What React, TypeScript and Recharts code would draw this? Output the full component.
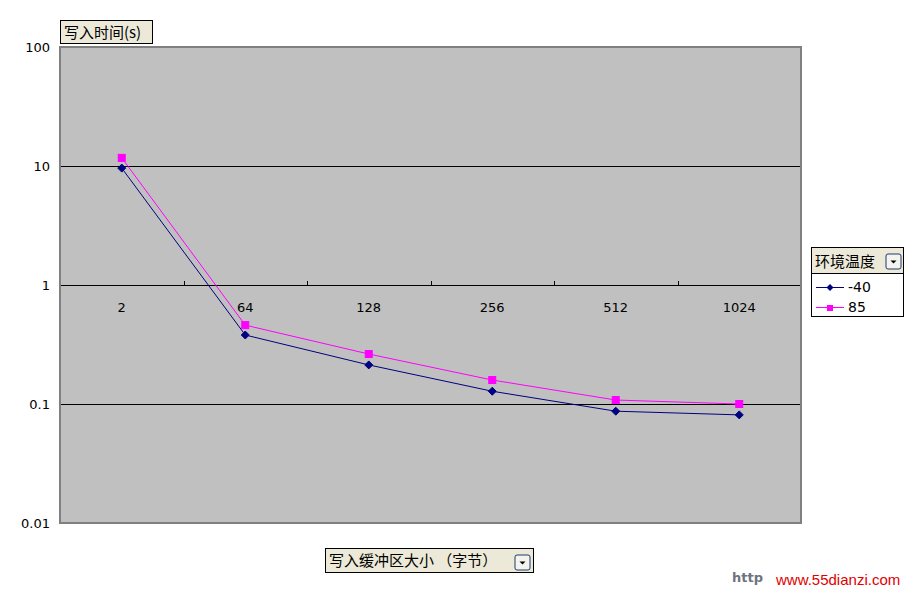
import React from 'react';
import { LineChart, Line, XAxis, YAxis, CartesianGrid, ReferenceArea } from 'recharts';

const categories = ['2', '64', '128', '256', '512', '1024'];
const seriesMinus40 = [9.6, 0.38, 0.213, 0.128, 0.087, 0.081];
const series85 = [11.7, 0.46, 0.263, 0.159, 0.108, 0.1];
const yTicks = [0.01, 0.1, 1, 10, 100];
const yTickLabels = ['0.01', '0.1', '1', '10', '100'];

const data = categories.map((c, i) => ({ cat: c, a: seriesMinus40[i], b: series85[i] }));

const W = 911;
const H = 592;
const XH = 20;
const M = { top: 47, right: 110, bottom: 69 - XH, left: 10 };
const YW = 50;
const PLOT_H = H - M.top - M.bottom - XH;
const PLOT_W = W - M.left - M.right - YW;
const BAND = PLOT_W / categories.length;
const FONT = '"DejaVu Sans", sans-serif';
const CJK = '"Noto Sans CJK SC", sans-serif';

const CatTick = (props: any) => {
  const { x, payload, index } = props;
  const yOne = M.top + (PLOT_H * (Math.log10(100) - Math.log10(1))) / 4;
  const bx = Math.round(x + BAND / 2) + 0.5;
  const idx = index ?? payload.index;
  return (
    <g>
      <text x={x} y={yOne + 27} textAnchor="middle" fontSize={13} fontFamily={FONT} fill="#000">
        {payload.value}
      </text>
      {idx < categories.length - 1 && (
        <line x1={bx} x2={bx} y1={yOne - 4} y2={yOne} stroke="#000" />
      )}
    </g>
  );
};

const YTick = (props: any) => {
  const { x, y, payload } = props;
  const i = yTicks.indexOf(payload.value);
  return (
    <text x={x - 2} y={y + 5} textAnchor="end" fontSize={13} fontFamily={FONT} fill="#000">
      {yTickLabels[i]}
    </text>
  );
};

const GridLine = (props: any) => {
  const { x1, x2, y1, index } = props;
  const y = Math.round(y1) + 0.5;
  return <line key={`g${index}`} x1={x1} x2={x2} y1={y} y2={y} stroke="#000" strokeWidth={1} />;
};

const Drop = ({ x, y }: { x: number; y: number }) => (
  <g>
    <rect x={x} y={y} width={15} height={15} rx={2} fill="#F4F3EE" stroke="#1C3A70" />
    <path d={`M${x + 4.5},${y + 6.5} L${x + 10.5},${y + 6.5} L${x + 7.5},${y + 9.5} Z`} fill="#000" />
  </g>
);

export default function App() {
  return (
    <div style={{ position: 'absolute', left: 0, top: 0, width: W, height: H, background: '#fff' }}>
      <LineChart width={W} height={H} data={data} margin={M}>
        <CartesianGrid
          horizontal={GridLine}
          vertical={false}
          stroke="#000"
          strokeOpacity={1}
          fill="#C0C0C0"
          fillOpacity={1}
        />
        <ReferenceArea
          y1={0.01}
          y2={100}
          fill="none"
          fillOpacity={0}
          stroke="#808080"
          strokeWidth={2}
        />
        <XAxis
          dataKey="cat"
          scale="band"
          height={XH}
          axisLine={false}
          tickLine={false}
          interval={0}
          tick={<CatTick />}
        />
        <YAxis
          scale="log"
          domain={[0.01, 100]}
          ticks={yTicks}
          allowDataOverflow
          width={YW}
          axisLine={false}
          tickLine={false}
          tick={<YTick />}
        />
        <Line
          dataKey="a"
          stroke="#000080"
          strokeWidth={1}
          isAnimationActive={false}
          dot={(p: any) => (
            <path
              key={`a${p.index}`}
              d={`M${p.cx},${p.cy - 4} L${p.cx + 4},${p.cy} L${p.cx},${p.cy + 4} L${p.cx - 4},${p.cy} Z`}
              fill="#000080"
              stroke="#000080"
            />
          )}
        />
        <Line
          dataKey="b"
          stroke="#FF00FF"
          strokeWidth={1}
          isAnimationActive={false}
          dot={(p: any) => (
            <rect key={`b${p.index}`} x={p.cx - 3.5} y={p.cy - 3.5} width={7} height={7} fill="#FF00FF" stroke="#FF00FF" />
          )}
        />
      </LineChart>
      <svg width={W} height={H} style={{ position: 'absolute', left: 0, top: 0, pointerEvents: 'none' }}>
        <rect x={60.5} y={20.5} width={92} height={23} fill="#ECE9D8" stroke="#000" />
        <text x={64} y={38} fontSize={15} fontFamily={CJK} fill="#000">写入时间(s)</text>
        <rect x={811.5} y={247.5} width={92} height={69} fill="#fff" stroke="#000" />
        <rect x={811.5} y={247.5} width={92} height={26} fill="#ECE9D8" stroke="#000" />
        <text x={815} y={267} fontSize={15} fontFamily={CJK} fill="#000">环境温度</text>
        <Drop x={886} y={254} />
        <line x1={816} x2={844} y1={287.5} y2={287.5} stroke="#000080" />
        <path d="M830,284 L833.5,287.5 L830,291 L826.5,287.5 Z" fill="#000080" />
        <text x={848} y={292} fontSize={14} fontFamily={FONT} fill="#000">-40</text>
        <line x1={816} x2={844} y1={307.5} y2={307.5} stroke="#FF00FF" />
        <rect x={827} y={305} width={6} height={6} fill="#FF00FF" />
        <text x={848} y={312} fontSize={14} fontFamily={FONT} fill="#000">85</text>
        <rect x={325.5} y={548.5} width={208} height={24} fill="#ECE9D8" stroke="#000" />
        <text x={329} y={566} fontSize={15} fontFamily={CJK} fill="#000">写入缓冲区大小 （字节）</text>
        <Drop x={515} y={555} />
        <text x={732} y={582} fontSize={13} fontWeight="bold" fontFamily={FONT} fill="#6E7380">http</text>
        <text x={776} y={585} fontSize={15} fontFamily={'"Liberation Sans", sans-serif'} fill="#E00000">www.55dianzi.com</text>
      </svg>
    </div>
  );
}
